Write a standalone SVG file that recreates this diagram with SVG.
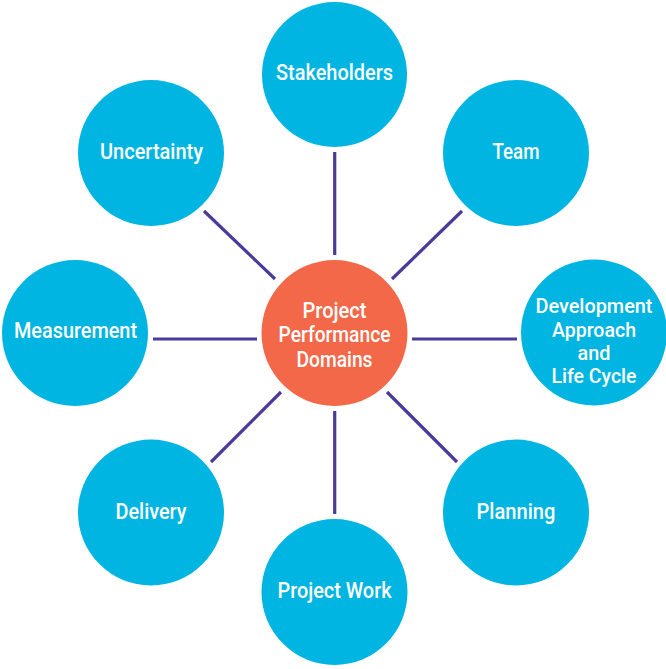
<svg xmlns="http://www.w3.org/2000/svg" width="666" height="669" viewBox="0 0 666 669">
<style>
.n{fill:#00B5E2}
.c{fill:#F26849}
.t{fill:#fff;font-family:Roboto,"Liberation Sans",sans-serif;font-weight:500;font-size:22.5px;text-anchor:middle}
.s{font-size:20.5px}
.e{stroke:#4B3A9A;stroke-width:3.2;stroke-linecap:butt;fill:none}
</style>
<rect width="666" height="669" fill="#fff"/>
<g id="connectors">
<line class="e" x1="334.7" y1="152" x2="334.7" y2="255"/>
<line class="e" x1="334.7" y1="411" x2="334.7" y2="514"/>
<line class="e" x1="153" y1="339" x2="257" y2="339"/>
<line class="e" x1="412" y1="339" x2="517" y2="339"/>
<line class="e" x1="204" y1="211" x2="275" y2="279"/>
<line class="e" x1="392" y1="279" x2="462" y2="211"/>
<line class="e" x1="281" y1="392" x2="211" y2="462"/>
<line class="e" x1="387" y1="392" x2="457" y2="462"/>
</g>
<g id="center">
<circle class="c" cx="334.5" cy="333" r="73"/>
<text class="t" x="334.5" y="318" textLength="64" lengthAdjust="spacingAndGlyphs">Project</text>
<text class="t" x="334.5" y="342" textLength="112" lengthAdjust="spacingAndGlyphs">Performance</text>
<text class="t" x="334.5" y="367" textLength="76" lengthAdjust="spacingAndGlyphs">Domains</text>
</g>
<g id="stakeholders">
<circle class="n" cx="334.5" cy="74.5" r="72.5"/>
<text class="t" x="334.5" y="80" textLength="117" lengthAdjust="spacingAndGlyphs">Stakeholders</text>
</g>
<g id="team">
<circle class="n" cx="516" cy="153" r="73"/>
<text class="t" x="516" y="159" textLength="47" lengthAdjust="spacingAndGlyphs">Team</text>
</g>
<g id="development">
<circle class="n" cx="594" cy="332.5" r="73"/>
<text class="t s" x="594" y="313" textLength="117" lengthAdjust="spacingAndGlyphs">Development</text>
<text class="t s" x="594" y="337" textLength="84" lengthAdjust="spacingAndGlyphs">Approach</text>
<text class="t s" x="594" y="360" textLength="33" lengthAdjust="spacingAndGlyphs">and</text>
<text class="t s" x="594" y="383" textLength="85" lengthAdjust="spacingAndGlyphs">Life Cycle</text>
</g>
<g id="planning">
<circle class="n" cx="516" cy="512.5" r="73"/>
<text class="t" x="516" y="519" textLength="79" lengthAdjust="spacingAndGlyphs">Planning</text>
</g>
<g id="project-work">
<circle class="n" cx="334.5" cy="592" r="73"/>
<text class="t" x="334.5" y="598" textLength="114" lengthAdjust="spacingAndGlyphs">Project Work</text>
</g>
<g id="delivery">
<circle class="n" cx="151" cy="512.5" r="73"/>
<text class="t" x="151" y="519" textLength="71" lengthAdjust="spacingAndGlyphs">Delivery</text>
</g>
<g id="measurement">
<circle class="n" cx="75" cy="333" r="73"/>
<text class="t" x="75.5" y="338" textLength="123" lengthAdjust="spacingAndGlyphs">Measurement</text>
</g>
<g id="uncertainty">
<circle class="n" cx="151" cy="153" r="73"/>
<text class="t" x="151.5" y="159" textLength="103" lengthAdjust="spacingAndGlyphs">Uncertainty</text>
</g>
</svg>
